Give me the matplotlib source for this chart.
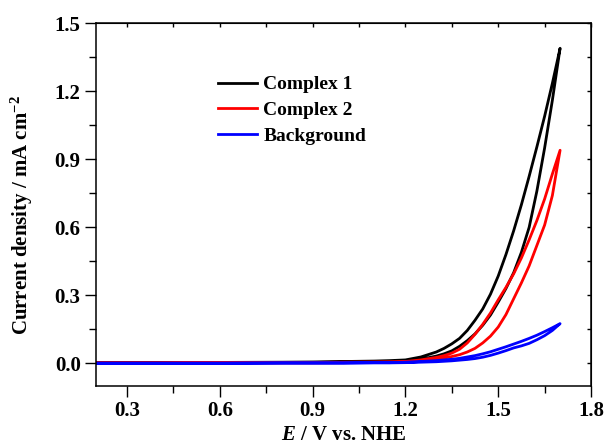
import matplotlib
matplotlib.use("Agg")
import matplotlib.pyplot as plt
from matplotlib.ticker import MultipleLocator

plt.rcParams['font.family'] = ['Liberation Serif', 'DejaVu Serif']
plt.rcParams['font.weight'] = 'bold'
plt.rcParams['mathtext.fontset'] = 'custom'
plt.rcParams['mathtext.rm'] = 'Liberation Serif:bold'
plt.rcParams['mathtext.bf'] = 'Liberation Serif:bold'
plt.rcParams['mathtext.it'] = 'Liberation Serif:bold:italic'

# ---- data (potential in V vs NHE, current density in mA cm^-2) ----
E_base = [0.20, 0.40, 0.60, 0.80, 0.90, 1.00, 1.10, 1.15]
E_rise = [1.20, 1.25, 1.30, 1.325, 1.35, 1.375, 1.40, 1.425, 1.45, 1.475,
          1.50, 1.525, 1.55, 1.575, 1.60, 1.625, 1.65, 1.675, 1.70]

c1_base_fwd = [0.002, 0.002, 0.003, 0.003, 0.004, 0.005, 0.007, 0.008]
c1_base_rev = [0.003, 0.003, 0.004, 0.005, 0.006, 0.008, 0.010, 0.012]
c1_fwd = [0.010, 0.018, 0.032, 0.042, 0.055, 0.075, 0.100, 0.130, 0.168, 0.213,
          0.270, 0.330, 0.400, 0.490, 0.600, 0.760, 0.950, 1.160, 1.390]
c1_rev = [0.015, 0.028, 0.050, 0.066, 0.086, 0.110, 0.145, 0.190, 0.240, 0.305,
          0.385, 0.480, 0.585, 0.700, 0.825, 0.955, 1.090, 1.235, 1.390]

c2_base_fwd = [0.001, 0.001, 0.002, 0.002, 0.002, 0.003, 0.004, 0.004]
c2_base_rev = [0.002, 0.002, 0.003, 0.003, 0.004, 0.005, 0.006, 0.007]
c2_fwd = [0.005, 0.010, 0.018, 0.023, 0.030, 0.038, 0.050, 0.066, 0.090, 0.120,
          0.160, 0.215, 0.285, 0.355, 0.430, 0.520, 0.610, 0.740, 0.940]
c2_rev = [0.008, 0.015, 0.026, 0.034, 0.045, 0.062, 0.090, 0.128, 0.172, 0.222,
          0.280, 0.335, 0.395, 0.465, 0.545, 0.630, 0.725, 0.835, 0.940]

bg_base_fwd = [0.000, 0.000, 0.000, 0.001, 0.001, 0.001, 0.002, 0.002]
bg_base_rev = [0.001, 0.001, 0.001, 0.002, 0.002, 0.002, 0.003, 0.003]
bg_fwd = [0.003, 0.005, 0.007, 0.009, 0.011, 0.014, 0.017, 0.021, 0.027, 0.035,
          0.045, 0.056, 0.068, 0.077, 0.088, 0.104, 0.122, 0.145, 0.175]
bg_rev = [0.005, 0.008, 0.012, 0.015, 0.018, 0.022, 0.028, 0.034, 0.042, 0.051,
          0.062, 0.073, 0.085, 0.097, 0.110, 0.124, 0.140, 0.157, 0.175]

series = [
    ("Complex 1", "#000000", c1_base_fwd, c1_fwd, c1_rev, c1_base_rev),
    ("Complex 2", "#ff0000", c2_base_fwd, c2_fwd, c2_rev, c2_base_rev),
    ("Background", "#0000ff", bg_base_fwd, bg_fwd, bg_rev, bg_base_rev),
]

xticks = [0.3, 0.6, 0.9, 1.2, 1.5, 1.8]
yticks = [0.0, 0.3, 0.6, 0.9, 1.2, 1.5]

fig = plt.figure(figsize=(6.05, 4.45), dpi=100)
ax = fig.add_axes([0.1587, 0.1326, 0.8182, 0.8150])

for name, col, bf, f, r, br in series:
    E_loop = E_base + E_rise + E_rise[::-1] + E_base[::-1]
    j_loop = bf + f + r[::-1] + br[::-1]
    ax.plot(E_loop, j_loop, color=col, lw=2.0, label=name, solid_joinstyle='round')

ax.set_xlim(0.2, 1.8)
ax.set_ylim(-0.1, 1.5)
ax.set_xticks(xticks)
ax.set_yticks(yticks)
ax.set_xticklabels([f"{v:.1f}" for v in xticks])
ax.set_yticklabels([f"{v:.1f}" for v in yticks])
ax.xaxis.set_minor_locator(MultipleLocator(0.15))
ax.yaxis.set_minor_locator(MultipleLocator(0.15))

ax.tick_params(which='major', direction='out', length=8, width=1.0, labelsize=15, pad=3)
ax.tick_params(which='minor', direction='out', length=5, width=1.0)
for s in ax.spines.values():
    s.set_linewidth(1.1)

top = ax.secondary_xaxis('top')
top.set_xticks(xticks)
top.xaxis.set_minor_locator(MultipleLocator(0.15))
top.tick_params(which='both', direction='in', length=3, width=1.0, labeltop=False)
right = ax.secondary_yaxis('right')
right.set_yticks(yticks)
right.yaxis.set_minor_locator(MultipleLocator(0.15))
right.tick_params(which='both', direction='in', length=3, width=1.0, labelright=False)

ax.set_xlabel(r'$\mathit{E}$ / V vs. NHE', fontsize=15, fontweight='bold', labelpad=3)
ax.set_ylabel(r'Current density / mA cm$^{-2}$', fontsize=15, fontweight='bold')
ax.yaxis.set_label_coords(-0.123, 0.47)

leg = ax.legend(loc='upper left', bbox_to_anchor=(0.23, 0.877), frameon=False,
                fontsize=14, handlelength=2.0, handletextpad=0.35, labelspacing=0.42,
                borderaxespad=0)
for t in leg.get_texts():
    t.set_fontweight('bold')

fig.savefig('out.png', dpi=100)
